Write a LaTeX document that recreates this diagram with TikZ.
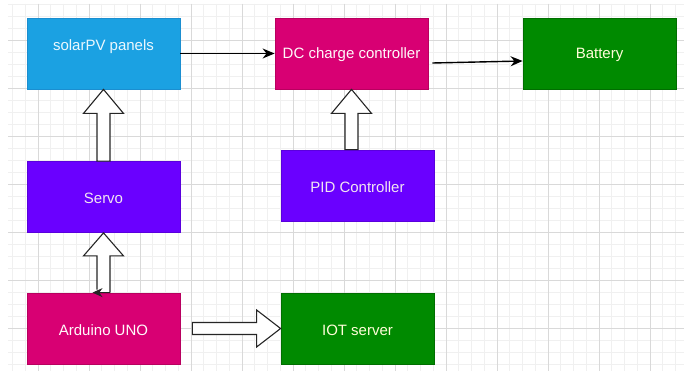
\documentclass[tikz,border=0pt]{standalone}
\usepackage{fontspec}
\setmainfont{Liberation Sans}
\usetikzlibrary{arrows.meta,calc}
\definecolor{cblue}{HTML}{1BA1E2}
\definecolor{cblueb}{HTML}{1B8ED0}
\definecolor{cmag}{HTML}{D80073}
\definecolor{cmagb}{HTML}{B8005F}
\definecolor{cgreen}{HTML}{008A00}
\definecolor{cgreenb}{HTML}{006E00}
\definecolor{cviol}{HTML}{6A00FF}
\definecolor{cviolb}{HTML}{5A00DD}
\definecolor{gmajor}{HTML}{D9D9D9}
\definecolor{gminor}{HTML}{F0F0F0}
\tikzset{
  box/.style={rectangle, minimum width=153pt, minimum height=71pt, inner sep=0pt,
    line width=0.8pt},
  txt/.style={font=\fontsize{15}{18}\selectfont, inner sep=0pt},
  minorgrid/.style={gminor, line width=0.6pt},
  majorgrid/.style={gmajor, line width=0.9pt},
  arr/.style={black, line width=1.4pt, -{Stealth[length=12pt,width=10pt]}},
  blockarrow/.style={draw=black!85, fill=white, line width=1.1pt, line join=miter},
  blockfill/.style={fill=white, draw=none},
  blockline/.style={draw=black!85, line width=1.1pt},
}
\begin{document}
\begin{tikzpicture}[x=1pt,y=-1pt]
\useasboundingbox[fill=white] (0,0) rectangle (684,371);
% grid
\foreach \i in {0,...,52} {
  \pgfmathsetmacro\xx{12.5+12.75*\i}
  \draw[minorgrid] (\xx,4) -- (\xx,371);
}
\foreach \i in {0,...,30} {
  \pgfmathsetmacro\yy{4+12*\i}
  \draw[minorgrid] (8,\yy) -- (684,\yy);
}
\foreach \i in {0,...,12} {
  \pgfmathsetmacro\xx{38+51*\i}
  \draw[majorgrid] (\xx,4) -- (\xx,371);
}
\foreach \i in {0,...,7} {
  \pgfmathsetmacro\yy{40+48*\i}
  \draw[majorgrid] (8,\yy) -- (684,\yy);
}
% boxes
\node[box, fill=cblue, draw=cblueb] (solar) at (103.5,53.5) {};
\node[box, fill=cmag, draw=cmagb] (dc) at (351.5,53.5) {};
\node[box, fill=cgreen, draw=cgreenb] (bat) at (599.5,53.5) {};
\node[box, fill=cviol, draw=cviolb] (servo) at (103.5,197) {};
\node[box, fill=cviol, draw=cviolb] (pid) at (357.5,185.5) {};
\node[box, fill=cmag, draw=cmagb] (ard) at (103.5,328.5) {};
\node[box, fill=cgreen, draw=cgreenb] (iot) at (357.5,328.5) {};
% texts
\node[txt, text=white!92!cyan] at ($(solar.center)+(0,-7)$) {solarPV panels};
\node[txt, text=white!92!pink] at ($(dc.center)+(0,1.5)$) {DC charge controller};
\node[txt, text=white!85!yellow] at ($(bat.center)+(0,1.5)$) {Battery};
\node[txt, text=white!90!violet] at ($(servo.center)+(0,1.5)$) {Servo};
\node[txt, text=white!90!violet] at ($(pid.center)+(0,1.5)$) {PID Controller};
\node[txt, text=white!92!pink] at ($(ard.center)+(0,1.5)$) {Arduino UNO};
\node[txt, text=white!85!yellow] at ($(iot.center)+(0,1.5)$) {IOT server};
% plain arrows
\draw[arr] (solar.east) -- (dc.west);
\draw[arr] ($(dc.east)+(4,9.5)$) -- ($(bat.west)+(0,7.5)$);
% block arrow servo -> solar
\draw[blockarrow] (solar.south) -- ($(solar.south)+(20,24)$) -- ($(solar.south)+(6.5,24)$)
  -- ($(servo.north)+(6.5,0)$) -- ($(servo.north)+(-6.5,0)$)
  -- ($(solar.south)+(-6.5,24)$) -- ($(solar.south)+(-20,24)$) -- cycle;
% block arrow pid -> dc
\draw[blockarrow] (dc.south) -- ($(dc.south)+(20,24)$) -- ($(dc.south)+(6.5,24)$)
  -- ($(dc.south |- pid.north)+(6.5,0)$) -- ($(dc.south |- pid.north)+(-6.5,0)$)
  -- ($(dc.south)+(-6.5,24)$) -- ($(dc.south)+(-20,24)$) -- cycle;
% block arrow arduino -> servo (with stray tip)
\fill[blockfill] (servo.south) -- ($(servo.south)+(20,23)$) -- ($(servo.south)+(6.5,23)$)
  -- ($(ard.north)+(6.5,0)$) -- ($(ard.north)+(-6.5,0)$)
  -- ($(servo.south)+(-6.5,23)$) -- ($(servo.south)+(-20,23)$) -- cycle;
\draw[blockline, line join=miter] ($(ard.north)+(-6.5,-3)$) -- ($(servo.south)+(-6.5,23)$)
  -- ($(servo.south)+(-20,23)$) -- (servo.south) -- ($(servo.south)+(20,23)$)
  -- ($(servo.south)+(6.5,23)$) -- ($(ard.north)+(6.5,0)$);
\draw[blockline, -{Stealth[length=10pt,width=9pt]}] ($(ard.north)+(6.5,0)$) -- ($(ard.north)+(-11,0)$);
% block arrow arduino -> iot
\draw[blockarrow] (iot.west) -- ($(iot.west)+(-24,-18.5)$) -- ($(iot.west)+(-24,-6)$)
  -- ($(ard.east)+(12,-6)$) -- ($(ard.east)+(12,6)$)
  -- ($(iot.west)+(-24,6)$) -- ($(iot.west)+(-24,18.5)$) -- cycle;
\end{tikzpicture}
\end{document}
